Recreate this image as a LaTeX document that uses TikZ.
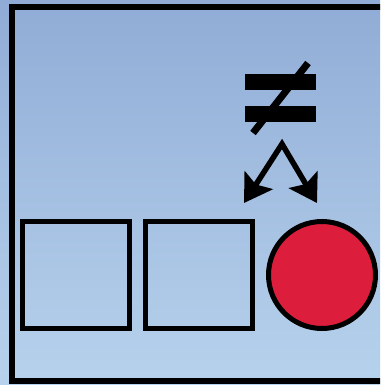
\documentclass[tikz,border=0pt]{standalone}
\usetikzlibrary{arrows.meta}
\definecolor{skytop}{HTML}{90ACD6}
\definecolor{skybot}{HTML}{B7D2EC}
\definecolor{ballred}{HTML}{DC1E3C}
\begin{document}
\begin{tikzpicture}[x=1pt, y=-1pt,
	box/.style={rectangle, draw, line width=5pt, minimum size=107pt, inner sep=0pt},
	ball/.style={circle, draw, fill=ballred, line width=5pt, minimum size=107pt, inner sep=0pt}]
	
	\useasboundingbox (0,0) rectangle (380,385);
	\fill[top color=skytop, bottom color=skybot] (0,0) rectangle (380,385);
	\clip (0,0) rectangle (380,385);
	\draw[line width=6pt] (390,7.5) -- (11.5,7.5) -- (11.5,380.5) -- (390,380.5);
	
	\node (s1) [box] at (75.5, 275) {};
	\node (s2) [box] at (199, 275) {};
	\node (c1) [ball] at (322, 275) {};
	
	% not equal sign
	\fill (245,74) rectangle (316,90);
	\fill (245,106) rectangle (316,122);
	\coordinate (nA) at (253,133);
	\coordinate (nB) at (308,63);
	\draw[line width=7pt] (nA) -- (nB);
	
	\coordinate (ap) at (282,144);
	\coordinate (tl) at (244,203);
	\coordinate (tr) at (317,203);
	\draw[line width=5.5pt, line join=miter,
		{Stealth[length=27pt,width=33pt,inset=5pt]}-{Stealth[length=27pt,width=33pt,inset=5pt]}]
		(tl) -- (ap) -- (tr);
	
\end{tikzpicture}
\end{document}
